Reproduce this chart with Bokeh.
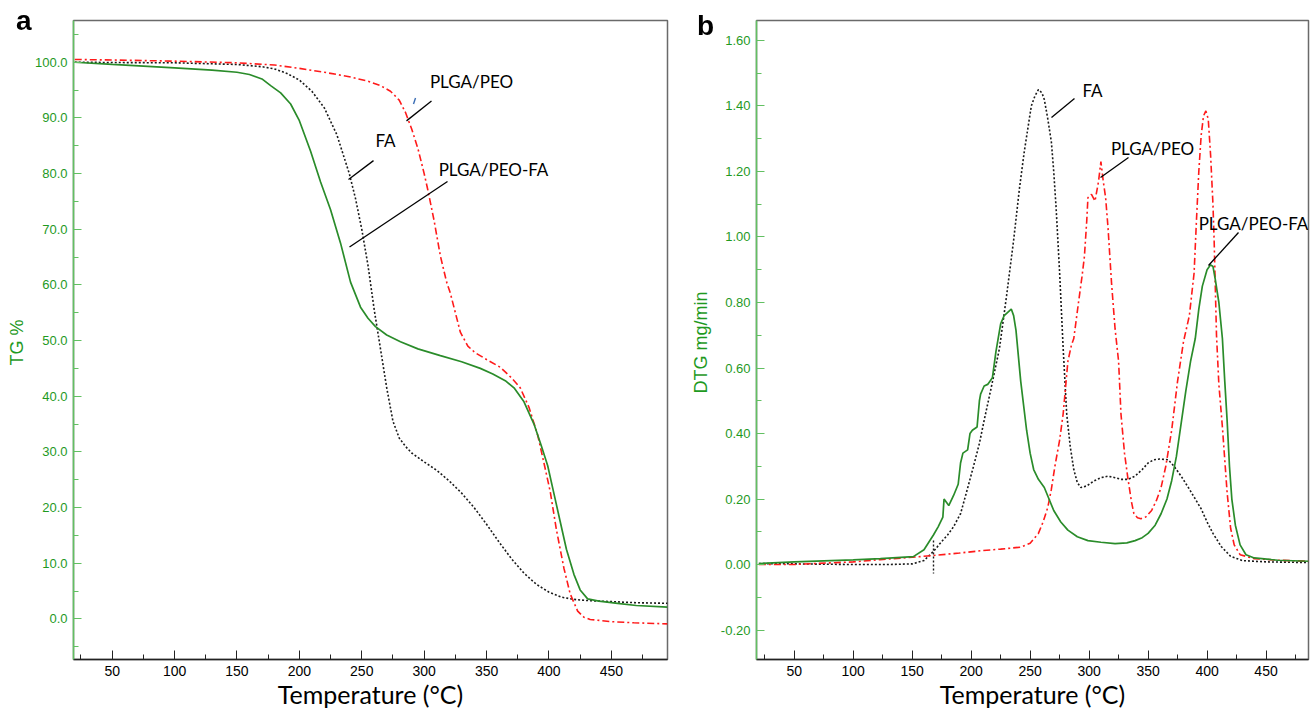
from bokeh.plotting import figure
from bokeh.models import Range1d, SingleIntervalTicker, PrintfTickFormatter, Label
from bokeh.layouts import row
from bokeh.embed import file_html
from bokeh.resources import INLINE

# ---------------- Panel a : TG (%) ----------------
fa_tg_T = [20, 50, 100, 150, 170, 180, 190, 200, 210, 220, 230, 240, 245, 250, 255, 260, 265, 270,
           275, 280, 285, 290, 300, 310, 320, 330, 340, 350, 360, 370, 380, 390, 400, 410, 420, 430,
           450, 470, 495]
fa_tg = [100.0, 99.95, 99.9, 99.6, 99.2, 98.8, 98.0, 96.8, 94.8, 91.8, 87.0, 80.0, 75.5, 70.0, 63.5,
         55.5, 48.5, 41.5, 35.5, 32.5, 31.0, 29.8, 28.2, 26.7, 24.8, 22.6, 20.0, 17.0, 13.8, 10.8,
         8.2, 6.2, 4.8, 3.9, 3.5, 3.3, 3.1, 2.9, 2.8]

blend_tg_T = [20, 50, 100, 130, 150, 160, 170, 177, 185, 193, 200, 209, 217, 225, 233, 241, 249, 255,
              261, 270, 281, 295, 313, 330, 345, 355, 365, 372, 380, 388, 394, 399, 404, 409, 414,
              420, 425, 431, 440, 455, 470, 495]
blend_tg = [100.0, 99.6, 99.0, 98.6, 98.2, 97.8, 97.0, 95.8, 94.5, 92.5, 89.5, 84.0, 78.5, 73.5, 67.5,
            60.5, 56.0, 54.0, 52.5, 51.0, 49.8, 48.5, 47.3, 46.2, 45.0, 44.0, 42.8, 41.5, 39.0, 35.0,
            31.0, 27.5, 22.5, 17.5, 12.5, 8.0, 5.2, 3.6, 3.2, 2.8, 2.4, 2.1]

plga_tg_T = [20, 50, 100, 150, 180, 200, 220, 240, 255, 265, 273, 280, 285, 290, 295, 300, 303, 308,
             313, 318, 321, 325, 329, 335, 341, 350, 361, 370, 377, 384, 391, 396, 401, 406, 412,
             417, 423, 428, 433, 450, 468, 495]
plga_tg = [100.5, 100.4, 100.2, 99.9, 99.5, 98.9, 98.2, 97.4, 96.6, 95.8, 94.8, 93.2, 91.0, 88.0,
           84.5, 80.0, 77.0, 71.5, 65.2, 60.5, 58.5, 55.0, 51.5, 49.0, 47.8, 46.6, 45.2, 43.3, 41.5,
           38.0, 33.0, 28.0, 22.9, 16.0, 9.1, 4.5, 1.4, 0.3, -0.1, -0.5, -0.7, -0.9]

# ---------------- Panel b : DTG (mg/min) ----------------
fa_dtg_T = [20, 50, 100, 130, 150, 160, 168, 175, 180, 185, 191, 196, 202, 207, 211, 217, 224, 230,
            236, 241, 245, 251, 254, 257, 260, 262, 265, 268, 270, 272, 275, 278, 281, 284, 287, 290,
            293, 298, 304, 310, 316, 322, 327, 333, 339, 345, 350, 355, 360, 367, 372, 378, 385, 390,
            395, 400, 405, 412, 420, 430, 450, 470, 486]
fa_dtg = [0.003, 0.002, 0.0, 0.0, 0.002, 0.012, 0.04, 0.07, 0.09, 0.115, 0.155, 0.22, 0.30, 0.37,
          0.44, 0.54, 0.66, 0.82, 0.99, 1.15, 1.26, 1.40, 1.43, 1.45, 1.44, 1.42, 1.36, 1.29, 1.20,
          1.09, 0.89, 0.66, 0.46, 0.36, 0.29, 0.25, 0.235, 0.24, 0.255, 0.265, 0.27, 0.265, 0.26,
          0.26, 0.27, 0.29, 0.31, 0.32, 0.322, 0.32, 0.30, 0.27, 0.23, 0.20, 0.17, 0.13, 0.095,
          0.055, 0.025, 0.012, 0.008, 0.007, 0.006]

plga_dtg_T = [20, 50, 80, 100, 123, 150, 166, 190, 208, 225, 242, 250, 257, 261, 265, 268, 271, 275,
              278, 282, 285, 287, 291, 294, 296, 298, 299, 302, 305, 308, 310, 312, 314, 316, 319,
              322, 325, 327, 330, 333, 336, 338, 341, 344, 348, 353, 357, 361, 365, 370, 375, 380,
              385, 389, 391, 393, 395, 397, 399, 401, 403, 405, 406, 408, 410, 413, 417, 420, 423,
              428, 440, 460, 486]
plga_dtg = [0.0, 0.0, 0.005, 0.008, 0.015, 0.022, 0.027, 0.035, 0.042, 0.047, 0.053, 0.065, 0.095,
            0.13, 0.175, 0.23, 0.30, 0.38, 0.46, 0.62, 0.67, 0.69, 0.80, 0.88, 0.94, 1.05, 1.12,
            1.13, 1.11, 1.17, 1.23, 1.17, 1.12, 1.03, 0.86, 0.72, 0.62, 0.46, 0.34, 0.26, 0.19,
            0.155, 0.143, 0.14, 0.145, 0.165, 0.195, 0.235, 0.30, 0.41, 0.56, 0.68, 0.76, 0.89,
            1.05, 1.20, 1.31, 1.37, 1.385, 1.36, 1.25, 1.10, 0.99, 0.70, 0.55, 0.42, 0.22, 0.11,
            0.06, 0.03, 0.018, 0.013, 0.01]

blend_dtg_T = [20, 50, 100, 123, 151, 160, 168, 172, 176, 177, 181, 185, 189, 191, 193, 197, 199, 201,
               205, 207, 208, 211, 214, 218, 221, 225, 228, 231, 234, 236, 238, 242, 247, 250, 253,
               257, 262, 266, 270, 276, 282, 290, 299, 310, 322, 332, 339, 345, 350, 356, 361, 366,
               370, 374, 378, 382, 386, 390, 393, 396, 400, 403, 405, 407, 410, 413, 415, 417, 419,
               421, 424, 428, 433, 440, 460, 486]
blend_dtg = [0.003, 0.008, 0.014, 0.018, 0.024, 0.045, 0.09, 0.115, 0.145, 0.20, 0.18, 0.21, 0.245,
             0.31, 0.34, 0.35, 0.40, 0.41, 0.42, 0.50, 0.52, 0.545, 0.55, 0.57, 0.65, 0.735, 0.76,
             0.77, 0.78, 0.76, 0.715, 0.56, 0.41, 0.34, 0.29, 0.26, 0.235, 0.20, 0.165, 0.13, 0.105,
             0.085, 0.073, 0.068, 0.064, 0.066, 0.073, 0.082, 0.095, 0.12, 0.155, 0.20, 0.256, 0.33,
             0.43, 0.53, 0.62, 0.69, 0.78, 0.85, 0.90, 0.915, 0.91, 0.87, 0.80, 0.69, 0.56, 0.44,
             0.30, 0.20, 0.12, 0.06, 0.03, 0.02, 0.013, 0.01]

series_names = ["FA", "PLGA/PEO", "PLGA/PEO-FA"]
panel_letters = ["a", "b"]
x_ticks_interval = 50
tg_tick_interval = 10
dtg_tick_interval = 0.2

# ---------------- styling ----------------
GREEN_TXT = "#1f9a1f"
AXIS_GREEN = "#62c062"
LINE_GREEN = "#2a8c2a"
RED = "#ff1a1a"
BLACK = "#1a1a1a"
TICK_FONT = "Liberation Sans"
ANN_FONT = "Lato"

# layout (window pixels)
A_W, H = 681, 718
A_L, A_R, A_T, A_B = 73, 667, 16, 659
B_L, B_R, B_T, B_B = 756, 1308, 20, 659
XA = (19, 495)
YA = (-7.3, 107.5)
XB = (18, 486)
YB = (-0.29, 1.661)


def to_data(px, py, L, R, T, B, xr, yr):
    x = xr[0] + (px - L) * (xr[1] - xr[0]) / (R - L)
    y = yr[1] - (py - T) * (yr[1] - yr[0]) / (B - T)
    return x, y


def make_fig(width, L, R, T, B, xr, yr, ylabel, yint, yfmt, offset, ylab_standoff):
    p = figure(width=width, height=H, x_range=Range1d(*xr), y_range=Range1d(*yr),
               output_backend="svg", toolbar_location=None,
               min_border_left=L - offset, min_border_right=offset + width - R,
               min_border_top=T, min_border_bottom=H - B,
               x_axis_label="Temperature (°C)", y_axis_label=ylabel)
    p.xgrid.visible = False
    p.ygrid.visible = False
    p.outline_line_color = "#6a6a6a"
    p.outline_line_width = 1.5
    p.background_fill_color = "white"
    p.border_fill_color = "white"

    xa = p.xaxis[0]
    xa.ticker = SingleIntervalTicker(interval=x_ticks_interval, num_minor_ticks=2)
    xa.axis_line_color = "#222222"
    xa.axis_line_width = 1.6
    xa.major_tick_line_color = "#222222"
    xa.minor_tick_line_color = "#222222"
    xa.major_tick_in = 9
    xa.major_tick_out = 0
    xa.minor_tick_in = 5
    xa.minor_tick_out = 0
    xa.major_label_text_font = TICK_FONT
    xa.major_label_text_font_size = "14px"
    xa.major_label_text_color = "black"
    xa.major_label_standoff = 6
    xa.axis_label_text_font = ANN_FONT
    xa.axis_label_text_font_size = "25px"
    xa.axis_label_text_font_style = "normal"
    xa.axis_label_text_color = "black"
    xa.axis_label_standoff = 0

    ya = p.yaxis[0]
    ya.ticker = SingleIntervalTicker(interval=yint, num_minor_ticks=2)
    ya.formatter = PrintfTickFormatter(format=yfmt)
    ya.axis_line_color = AXIS_GREEN
    ya.axis_line_width = 1.5
    ya.major_tick_line_color = AXIS_GREEN
    ya.minor_tick_line_color = AXIS_GREEN
    ya.major_tick_in = 8
    ya.major_tick_out = 0
    ya.minor_tick_in = 5
    ya.minor_tick_out = 0
    ya.major_label_text_font = TICK_FONT
    ya.major_label_text_font_size = "13px"
    ya.major_label_text_color = GREEN_TXT
    ya.major_label_standoff = 6
    ya.axis_label_text_font = "Liberation Sans"
    ya.axis_label_text_font_size = "18px"
    ya.axis_label_text_font_style = "normal"
    ya.axis_label_text_color = GREEN_TXT
    ya.axis_label_standoff = ylab_standoff
    return p


def draw_series(p, fa, plga, blend):
    p.line(fa[0], fa[1], line_color=BLACK, line_width=1.6, line_dash="2 2")
    p.line(plga[0], plga[1], line_color=RED, line_width=1.6, line_dash="7 3 2 3")
    p.line(blend[0], blend[1], line_color=LINE_GREEN, line_width=1.7)


def annotate(p, conv, texts, leaders):
    for txt, px, py in texts:
        x, y = conv(px, py)
        p.add_layout(Label(x=x, y=y, text=txt, text_font=ANN_FONT, text_font_size="17px",
                           text_align="center", text_baseline="middle", text_color="black"))
    x0, y0, x1, y1 = [], [], [], []
    for a, b, c, d in leaders:
        u, v = conv(a, b)
        w, z = conv(c, d)
        x0.append(u); y0.append(v); x1.append(w); y1.append(z)
    p.segment(x0=x0, y0=y0, x1=x1, y1=y1, line_color="black", line_width=1.3)


# ---- panel a ----
pa = make_fig(A_W, A_L, A_R, A_T, A_B, XA, YA, "TG  %", tg_tick_interval, "%.1f", 0, 5)
draw_series(pa, (fa_tg_T, fa_tg), (plga_tg_T, plga_tg), (blend_tg_T, blend_tg))
conv_a = lambda px, py: to_data(px, py, A_L, A_R, A_T, A_B, XA, YA)
annotate(pa, conv_a,
         [(series_names[1], 471, 77), (series_names[0], 385, 137), (series_names[2], 493, 166)],
         [(406, 117, 431, 97), (348, 176, 373, 157), (349, 244, 447, 178)])
bx0, by0 = conv_a(413, 100)
bx1, by1 = conv_a(415, 94)
pa.segment(x0=[bx0], y0=[by0], x1=[bx1], y1=[by1], line_color="#3b6eb5", line_width=1.4)

# ---- panel b ----
pb = make_fig(1314 - A_W, B_L, B_R, B_T, B_B, XB, YB, "DTG  mg/min", dtg_tick_interval, "%.2f",
              A_W, 7)
draw_series(pb, (fa_dtg_T, fa_dtg), (plga_dtg_T, plga_dtg), (blend_dtg_T, blend_dtg))
conv_b = lambda px, py: to_data(px, py, B_L, B_R, B_T, B_B, XB, YB)
annotate(pb, conv_b,
         [(series_names[0], 1092, 90), (series_names[1], 1152, 148), (series_names[2], 1253, 223)],
         [(1051, 117, 1074, 98), (1100, 177, 1128, 157), (1208, 265, 1238, 232)])
cx0, cy0 = conv_b(933, 540)
cx1, cy1 = conv_b(933, 573)
pb.segment(x0=[cx0], y0=[cy0], x1=[cx1], y1=[cy1], line_color=BLACK, line_width=1.4, line_dash="2 2")

layout = row(pa, pb)
html = file_html(layout, INLINE)

# panel letters (a / b) placed in the page margin beside each plot frame
letter_css = ("position:fixed;font-family:'Liberation Sans',Arial,sans-serif;font-weight:bold;"
              "font-size:28px;line-height:28px;color:#000;z-index:1000;pointer-events:none;")
letters_html = (f'<div style="{letter_css}left:16px;top:7px;">{panel_letters[0]}</div>'
                f'<div style="{letter_css}left:697px;top:12px;">{panel_letters[1]}</div>')
head, sep, tail = html.rpartition("</body>")
html = head + letters_html + sep + tail
open("out.html", "w").write(html)
